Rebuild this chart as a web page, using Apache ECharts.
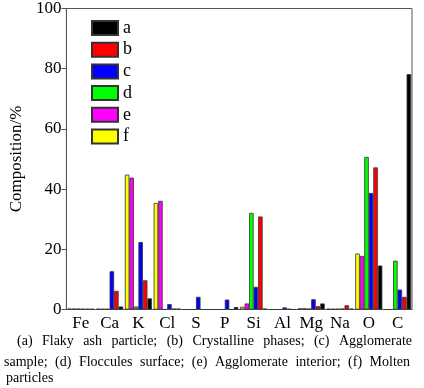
<!DOCTYPE html>
<html><head><meta charset="utf-8">
<script src="https://cdn.jsdelivr.net/npm/echarts@6/dist/echarts.min.js"></script>
<style>html,body{margin:0;padding:0;background:#fff}#c{width:424px;height:388px}</style>
</head><body><div id="c"></div>
<script>
var categories = ['Fe','Ca','K','Cl','S','P','Si','Al','Mg','Na','O','C'];
var seriesNames = ['f','e','d','c','b','a'];
var seriesColors = ['#ffff00','#ff00ff','#00ff00','#0000ff','#ff0000','#000000'];
var fVals = [0.3, 0.2, 44.8, 35.4, 0, 0, 0.9, 0, 0.4, 0.2, 18.6, 0];
var eVals = [0.3, 0.2, 43.8, 36.1, 0, 0, 2.0, 0, 0.4, 0.2, 17.8, 0];
var dVals = [0.3, 0.2, 1.0, 0, 0, 0, 32.1, 0, 0.3, 0.2, 50.7, 16.2];
var cVals = [0.2, 12.7, 22.4, 1.8, 4.2, 3.3, 7.5, 0.7, 3.4, 0.3, 38.7, 6.6];
var bVals = [0.2, 6.2, 9.7, 0.3, 0, 0, 30.9, 0.2, 1.1, 1.4, 47.2, 4.2];
var aVals = [0.2, 1.0, 3.7, 0.3, 0, 0.8, 0.3, 0, 2.0, 0.3, 14.6, 78.2];
var yTicks = [0, 20, 40, 60, 80, 100];
var captionLines = [
  '(a) Flaky ash particle; (b) Crystalline phases; (c) Agglomerate',
  'sample; (d) Floccules surface; (e) Agglomerate interior; (f) Molten',
  'particles'
];

var allVals = [fVals, eVals, dVals, cVals, bVals, aVals];
var font = '"Liberation Serif","Times New Roman",serif';
var chart = echarts.init(document.getElementById('c'));

var series = seriesNames.map(function(n, i){
  return {
    name: n, type: 'bar', data: allVals[i], barGap: '0%', barCategoryGap: '6%',
    itemStyle: {color: seriesColors[i], borderColor: '#333', borderWidth: 0.8},
    animation: false
  };
});

// caption: justified lines
var ctx = document.createElement('canvas').getContext('2d');
var capFont = '14px "Liberation Serif"';
ctx.font = capFont;
var lineSpecs = [{x0:17, x1:412, y:342, justify:true},{x0:4, x1:410, y:363, justify:true},{x0:6, x1:0, y:379, justify:false}];
var graphics = [];
captionLines.forEach(function(line, li){
  var spec = lineSpecs[li];
  var words = line.split(' ');
  if (!spec.justify || words.length < 2) {
    graphics.push({type:'text', x: spec.x0, y: spec.y - 8, style:{text: line, font: capFont, fill:'#000'}});
    return;
  }
  var total = 0;
  words.forEach(function(w){ total += ctx.measureText(w).width; });
  var gap = (spec.x1 - spec.x0 - total) / (words.length - 1);
  var x = spec.x0;
  words.forEach(function(w){
    graphics.push({type:'text', x: x, y: spec.y - 8, style:{text: w, font: capFont, fill:'#000'}});
    x += ctx.measureText(w).width + gap;
  });
});

chart.setOption({
  animation: false,
  backgroundColor: '#fff',
  grid: {left: 65, right: 12, top: 4, bottom: 78.5, show: true, borderColor: '#555', borderWidth: 1},
  legend: {
    data: ['a','b','c','d','e','f'], orient: 'vertical', left: 91, top: 19, padding: 0,
    icon: 'rect', itemWidth: 26, itemHeight: 14, itemGap: 3.7,
    textStyle: {fontFamily: font, fontSize: 18, color: '#000'}
  },
  xAxis: {
    type: 'category', data: categories,
    axisLine: {lineStyle: {color: '#555'}}, axisTick: {show: false},
    axisLabel: {fontFamily: font, fontSize: 17, color: '#000', margin: 6, interval: 0}
  },
  yAxis: {
    type: 'value', min: 0, max: 100, interval: 20,
    name: 'Composition/%', nameLocation: 'middle', nameGap: 29,
    nameTextStyle: {fontFamily: font, fontSize: 17, color: '#000'},
    axisLine: {show: true, lineStyle: {color: '#555'}},
    axisTick: {show: true, inside: false, length: 5, lineStyle: {color: '#555'}},
    splitLine: {show: false},
    axisLabel: {fontFamily: font, fontSize: 17, color: '#000', margin: 5,
      formatter: function(v){ return yTicks.indexOf(v) >= 0 ? String(v) : ''; }}
  },
  series: series,
  graphic: graphics
});
</script></body></html>
